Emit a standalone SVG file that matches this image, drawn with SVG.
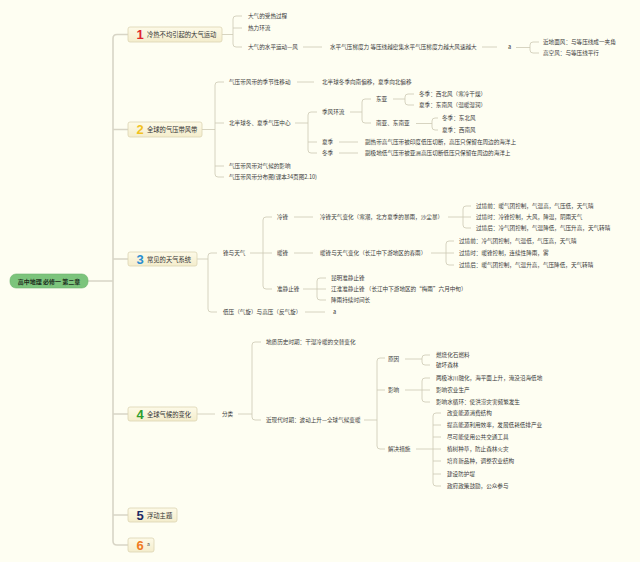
<svg xmlns="http://www.w3.org/2000/svg" width="640" height="562" viewBox="0 0 640 562">
<defs>
<linearGradient id="bx" x1="0" y1="0" x2="0" y2="1">
<stop offset="0" stop-color="#fdfae8"/>
<stop offset="1" stop-color="#f4edcc"/>
</linearGradient>
<style>
.t{font-family:"Noto Sans CJK SC","Noto Sans",sans-serif;font-size:5.6px;fill:#3a3a3a;dominant-baseline:central}
.bt{font-family:"Noto Sans CJK SC","Noto Sans",sans-serif;font-size:6.3px;fill:#333;dominant-baseline:central}
.num{font-family:"Liberation Sans",Arial,sans-serif;font-weight:bold;font-size:13px;text-anchor:middle}
.box{fill:url(#bx);stroke:#dcd4b2;stroke-width:0.8}
.ln{fill:none;stroke:#cdc9b4;stroke-width:0.8}
.sp{fill:none;stroke:#d8d5c6;stroke-width:1.6}
</style>
</defs>
<rect width="640" height="562" fill="#fefef2"/>

<g id="connectors">
<path class="sp" d="M88,281 H113 M128,34.5 H117 Q113,34.5 113,38.5 V541 Q113,545 117,545 H128 M113,129.5 H128 M113,259 H128 M113,414 H128 M113,515 H128"/>
<path class="ln" d="M222,34.5 H233 M242,16 H236 Q233,16 233,19 V44 Q233,47 236,47 H242 M233,28 H242 M303,47 H322 M482,47 H497 M516,47.5 H530 M539,42 H533 Q530,42 530,45 V50 Q530,53 533,53 H539"/>
<path class="ln" d="M202,129.5 H215 M224,82 H218 Q215,82 215,85 V174 Q215,177 218,177 H224 M215,123 H224 M215,166 H224 M297,82 H314 M295,123 H308 M317,112 H311 Q308,112 308,115 V150 Q308,153 311,153 H317 M308,142 H317 M350,112 H362 M371,99 H365 Q362,99 362,102 V120 Q362,123 365,123 H371 M393,99 H405 M414,94 H408 Q405,94 405,97 V102 Q405,105 408,105 H414 M416,123.5 H432 M438,118 H435 Q432,118 432,121 V127 Q432,130 435,130 H438 M339,142 H358 M339,153 H358"/>
<path class="ln" d="M197,259 H208 M217,253 H211 Q208,253 208,256 V309 Q208,312 211,312 H217 M250,253 H263 M272,217 H266 Q263,217 263,220 V286 Q263,289 266,289 H272 M263,253 H272 M294,217 H313 M448,217 H463 M471,206 H466 Q463,206 463,209 V225 Q463,228 466,228 H471 M463,217 H471 M294,253 H313 M431,253 H446 M454,241 H449 Q446,241 446,244 V262 Q446,265 449,265 H454 M446,253 H454 M303,289 H317 M326,278 H320 Q317,278 317,281 V297 Q317,300 320,300 H326 M317,289 H326 M305,312 H325"/>
<path class="ln" d="M197,414 H215 M238,414 H252 M261,342 H255 Q252,342 252,345 V417 Q252,420 255,420 H261 M364,420 H377 M385,358 H380 Q377,358 377,361 V446 Q377,449 380,449 H385 M377,390 H385 M405,359 H422 M430,355 H425 Q422,355 422,358 V362 Q422,365 425,365 H430 M405,390 H422 M430,378 H425 Q422,378 422,381 V399 Q422,402 425,402 H430 M422,390 H430 M416,449 H433 M441,413 H436 Q433,413 433,416 V483 Q433,486 436,486 H441 M433,425 H441 M433,437 H441 M433,449 H441 M433,461 H441 M433,474 H441"/>
</g>

<g id="root">
<rect x="10" y="274" width="78" height="14" rx="6" fill="#7cc47c" stroke="#6cb46c" stroke-width="0.6"/>
<text class="t" x="49" y="281" text-anchor="middle" style="font-size:6px;font-weight:bold;fill:#1e2e1e">高中地理 必修一 第二章</text>
</g>

<g id="b1">
<rect class="box" x="128" y="27" width="94" height="15" rx="2"/>
<text class="num" x="140" y="39.2" fill="#e0262e">1</text>
<text class="bt" x="147" y="34.5">冷热不均引起的大气运动</text>
<text class="t" x="248" y="16">大气的受热过程</text>
<text class="t" x="248" y="28">热力环流</text>
<text class="t" x="248" y="47">大气的水平运动—风</text>
<text class="t" x="330" y="47">水平气压梯度力 等压线越密集水平气压梯度力越大风速越大</text>
<text class="t" x="508" y="47">a</text>
<text class="t" x="543" y="42">近地面风：与等压线成一夹角</text>
<text class="t" x="543" y="53">高空风：与等压线平行</text>
</g>

<g id="b2">
<rect class="box" x="128" y="122" width="74" height="15" rx="2"/>
<text class="num" x="140" y="134.2" fill="#f2c21e">2</text>
<text class="bt" x="147" y="129.5">全球的气压带风带</text>
<text class="t" x="229" y="82">气压带风带的季节性移动</text>
<text class="t" x="322" y="82">北半球冬季向南偏移，夏季向北偏移</text>
<text class="t" x="229" y="123">北半球冬、夏季气压中心</text>
<text class="t" x="322" y="112">季风环流</text>
<text class="t" x="376" y="99">东亚</text>
<text class="t" x="419" y="94">冬季：西北风（寒冷干燥）</text>
<text class="t" x="419" y="105">夏季：东南风（温暖湿润）</text>
<text class="t" x="376" y="123">南亚、东南亚</text>
<text class="t" x="442" y="118">冬季：东北风</text>
<text class="t" x="442" y="130">夏季：西南风</text>
<text class="t" x="322" y="142">夏季</text>
<text class="t" x="365" y="142">副热带高气压带被印度低压切断，高压只保留在周边的海洋上</text>
<text class="t" x="322" y="153">冬季</text>
<text class="t" x="365" y="153">副极地低气压带被亚洲高压切断低压只保留在周边的海洋上</text>
<text class="t" x="229" y="166">气压带风带对气候的影响</text>
<text class="t" x="229" y="177">气压带风带分布图(课本34页图2.10)</text>
</g>

<g id="b3">
<rect class="box" x="128" y="252" width="69" height="14" rx="2"/>
<text class="num" x="140" y="263.7" fill="#2a8ed2">3</text>
<text class="bt" x="147" y="259">常见的天气系统</text>
<text class="t" x="223" y="253">锋与天气</text>
<text class="t" x="277" y="217">冷锋</text>
<text class="t" x="320" y="217">冷锋天气变化（寒潮，北方夏季的暴雨，沙尘暴）</text>
<text class="t" x="476" y="206">过境前：暖气团控制，气温高，气压低，天气晴</text>
<text class="t" x="476" y="217">过境时：冷锋控制，大风，降温，阴雨天气</text>
<text class="t" x="476" y="228">过境后：冷气团控制，气温降低，气压升高，天气转晴</text>
<text class="t" x="277" y="253">暖锋</text>
<text class="t" x="320" y="253">暖锋与天气变化（长江中下游地区的春雨）</text>
<text class="t" x="459" y="241">过境前：冷气团控制，气温低，气压高，天气晴</text>
<text class="t" x="459" y="253">过境时：暖锋控制，连续性降雨，雾</text>
<text class="t" x="459" y="265">过境后：暖气团控制，气温升高，气压降低，天气转晴</text>
<text class="t" x="277" y="289">准静止锋</text>
<text class="t" x="331" y="278">昆明准静止锋</text>
<text class="t" x="331" y="289">江淮准静止锋 （长江中下游地区的“梅雨”六月中旬）</text>
<text class="t" x="331" y="300">降雨持续时间长</text>
<text class="t" x="223" y="312">低压（气旋）与高压（反气旋）</text>
<text class="t" x="333" y="312">a</text>
</g>

<g id="b4">
<rect class="box" x="128" y="407" width="69" height="14" rx="2"/>
<text class="num" x="140" y="418.7" fill="#2e9e2e">4</text>
<text class="bt" x="147" y="414">全球气候的变化</text>
<text class="t" x="222" y="414">分类</text>
<text class="t" x="266" y="342">地质历史时期：干湿冷暖的交替变化</text>
<text class="t" x="266" y="420">近现代时期：波动上升—全球气候变暖</text>
<text class="t" x="388" y="359">原因</text>
<text class="t" x="436" y="355">燃烧化石燃料</text>
<text class="t" x="436" y="365">破坏森林</text>
<text class="t" x="388" y="390">影响</text>
<text class="t" x="436" y="378">两极冰川融化，海平面上升，淹没沿海低地</text>
<text class="t" x="436" y="390">影响农业生产</text>
<text class="t" x="436" y="402">影响水循环：使洪涝灾害频繁发生</text>
<text class="t" x="388" y="449">解决措施</text>
<text class="t" x="447" y="413">改变能源消费结构</text>
<text class="t" x="447" y="425">提高能源利用效率，发展低耗低排产业</text>
<text class="t" x="447" y="437">尽可能使用公共交通工具</text>
<text class="t" x="447" y="449">植树种草，防止森林火灾</text>
<text class="t" x="447" y="461">培育新品种，调整农业结构</text>
<text class="t" x="447" y="474">建设防护堤</text>
<text class="t" x="447" y="486">政府政策鼓励，公众参与</text>
</g>

<g id="b5">
<rect class="box" x="128" y="508" width="49" height="14" rx="2"/>
<text class="num" x="140" y="519.7" fill="#1c2a66">5</text>
<text class="bt" x="147" y="515">浮动主题</text>
</g>

<g id="b6">
<rect class="box" x="128" y="538" width="26" height="14" rx="2"/>
<text class="num" x="140" y="549.7" fill="#f07a1e">6</text>
<text class="t" x="147" y="543" style="font-size:5px">a</text>
</g>
</svg>
